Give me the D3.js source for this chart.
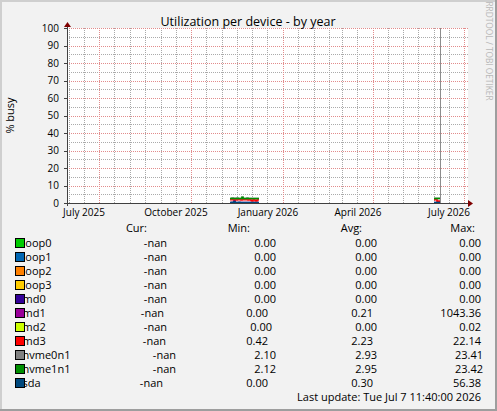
<!DOCTYPE html>
<html><head><meta charset="utf-8">
<script src="https://cdn.jsdelivr.net/npm/d3@7"></script>
<style>
body{margin:0;background:#F2F2F2}
svg{display:block}
text{font-family:"Open Sans","Noto Sans",sans-serif;fill:#000}
</style>
</head><body>
<svg id="c" width="497" height="411"></svg>
<script>
// ---------- data ----------
const chartTitle = "Utilization per device - by year";
const yAxisLabel = "% busy";
const watermark = "RRDTOOL / TOBI OETIKER";
const lastUpdate = "Last update: Tue Jul  7 11:40:00 2026";
const devices = ["loop0","loop1","loop2","loop3","md0","md1","md2","md3","nvme0n1","nvme1n1","sda"];
const colors  = ["#00CC00","#0066B3","#FF8000","#FFCC00","#330099","#990099","#CCFF00","#FF0000","#808080","#008F00","#00487D"];
const curVals = ["-nan","-nan","-nan","-nan","-nan","-nan","-nan","-nan","-nan","-nan","-nan"];
const minVals = ["0.00","0.00","0.00","0.00","0.00","0.00","0.00","0.42","2.10","2.12","0.00"];
const avgVals = ["0.00","0.00","0.00","0.00","0.00","0.21","0.00","2.23","2.93","2.95","0.30"];
const maxVals = ["0.00","0.00","0.00","0.00","0.00","1043.36","0.02","22.14","23.41","23.42","56.38"];
const legendHeaders = ["Cur:","Min:","Avg:","Max:"];

const yTicks = [0,10,20,30,40,50,60,70,80,90,100];
const yMinorTicks = [5,15,25,35,45,55,65,75,85,95];
const xTickDates  = ["2025-07-01","2025-10-01","2026-01-01","2026-04-01","2026-07-01"];
const xTickLabels = ["July 2025","October 2025","January 2026","April 2026","July 2026"];
const xDomain = ["2025-05-30","2026-07-04"];
const nowRule = "2026-06-07";

// daily samples
const seg1Start = "2025-11-09";
const seg2Start = "2026-06-01";
const seg1 = {
  loop0:[0,0,0,0,0,0,0,0,0,0,0,0,0,0,0,0,0,0,0,0,0,0,0,0,0,0,0,0,0],
  loop1:[0,0,0,0,0,0,0,0,0,0,0,0,0,0,0,0,0,0,0,0,0,0,0,0,0,0,0,0,0],
  loop2:[0,0,0,0,0,0,0,0,0,0,0,0,0,0,0,0,0,0,0,0,0,0,0,0,0,0,0,0,0],
  loop3:[0,0,0,0,0,0,0,0,0,0,0,0,0,0,0,0,0,0,0,0,0,0,0,0,0,0,0,0,0],
  md0:[0,0,0,0,0,0,0,0,0,0,0,0,0,0,0,0,0,0,0,0,0,0,0,0,0,0,0,0,0],
  md1:[0.2,0.2,0.3,0.2,2.6,0.3,0.2,0.2,0.2,0.3,0.2,0.2,0.2,0.2,0.3,0.2,0.2,0.2,0.2,0.2,0.3,0.2,0.2,0.2,0.2,0.2,0.2,0.2,0.2],
  md2:[0,0,0,0,0,0,0,0,0,0,0,0,0,0,0,0,0,0,0,0,0,0,0,0,0,0,0,0,0],
  md3:[1.9,1.9,2.0,1.9,1.9,1.8,1.9,1.9,2.0,1.9,1.9,1.8,1.9,1.9,1.9,2.0,1.9,1.9,1.8,1.9,1.9,1.4,1.2,1.9,1.9,1.3,1.2,1.8,1.9],
  nvme0n1:[2.6,2.6,2.7,2.6,2.6,2.6,2.6,2.7,2.6,2.6,2.6,2.6,3.2,2.6,2.6,2.6,2.6,2.7,2.6,2.6,2.6,2.6,2.6,2.6,2.6,2.6,2.6,2.6,2.6],
  nvme1n1:[2.6,2.6,2.7,2.6,2.6,2.6,2.6,2.7,2.6,2.6,2.6,2.6,3.3,2.6,2.6,2.6,2.6,2.7,2.6,2.6,2.6,2.6,2.6,2.6,2.6,2.6,2.6,2.6,2.6],
  sda:[0.3,0.3,0.4,0.3,0.9,0.3,0.3,0.3,0.3,0.4,0.3,0.3,0.3,0.3,0.3,0.3,0.3,0.3,0.3,0.3,0.3,0.3,0.3,0.3,0.3,0.3,0.3,0.3,0.3]
};
const seg2 = {
  loop0:[0,0,0,0,0,0,0], loop1:[0,0,0,0,0,0,0], loop2:[0,0,0,0,0,0,0], loop3:[0,0,0,0,0,0,0],
  md0:[0,0,0,0,0,0,0],
  md1:[0.2,0.2,0.2,0.2,0.2,0.2,0.2],
  md2:[0,0,0,0,0,0,0],
  md3:[1.9,1.9,1.9,1.1,1.1,1.1,1.1],
  nvme0n1:[2.6,2.6,2.6,2.6,2.6,2.6,2.6],
  nvme1n1:[2.6,2.6,2.6,2.6,2.6,2.6,2.6],
  sda:[0.3,0.3,0.3,0.3,0.3,0.3,0.3]
};

// ---------- layout ----------
const W = 497, H = 411;
const plot = {left:67, right:467, top:28, bottom:203};
const colCur = [167,167,167,167,167,164,167,166,176,176,163];
const colMin = [276,276,276,276,276,268,272,268,276,276,268];
const colAvg = [377,377,377,377,377,373,377,373,377,377,373];
const colMax = [481,481,481,481,481,481,481,481,483,483,481];
const headerRight = [147,250,362,475];

const parse = d3.utcParse("%Y-%m-%d");
const svg = d3.select("#c");
svg.append("rect").attr("width",W).attr("height",H).attr("fill","#F2F2F2");
svg.append("path").attr("d",`M0,0H${W}V2H2V${H}H0Z`).attr("fill","#CFCFCF");
svg.append("path").attr("d",`M${W},${H}H0V${H-2}H${W-2}V0H${W}Z`).attr("fill","#9E9E9E");

const x = d3.scaleUtc().domain(xDomain.map(parse)).range([plot.left, plot.right]);
const y = d3.scaleLinear().domain([0,100]).range([plot.bottom, plot.top]);

svg.append("rect").attr("x",plot.left).attr("y",plot.top).attr("width",plot.right-plot.left+1).attr("height",plot.bottom-plot.top).attr("fill","#FFFFFF");

const g = svg.append("g").attr("shape-rendering","crispEdges");
const px = d => Math.round(x(d))+0.5;
const minorDates = d3.utcDay.range(x.domain()[0], x.domain()[1]).filter(d=>d.getUTCDate()===1||d.getUTCDate()===16);
g.selectAll("line.vmin").data(minorDates).join("line").attr("class","vmin")
  .attr("x1",px).attr("x2",px).attr("y1",plot.top).attr("y2",plot.bottom)
  .attr("stroke","#A8A8A8").attr("stroke-dasharray","1,1");
g.selectAll("line.hmin").data(yMinorTicks).join("line").attr("class","hmin")
  .attr("x1",plot.left).attr("x2",plot.right+1)
  .attr("y1",d=>Math.round(y(d))+0.5).attr("y2",d=>Math.round(y(d))+0.5)
  .attr("stroke","#ABABAB").attr("stroke-dasharray","1,1");
const majorDates = xTickDates.map(parse);
g.selectAll("line.vmaj").data(majorDates).join("line").attr("class","vmaj")
  .attr("x1",px).attr("x2",px).attr("y1",plot.top).attr("y2",plot.bottom)
  .attr("stroke","#E28C8C").attr("stroke-dasharray","1,1");
g.selectAll("line.hmaj").data(yTicks.filter(v=>v>0)).join("line").attr("class","hmaj")
  .attr("x1",plot.left).attr("x2",plot.right+1)
  .attr("y1",d=>Math.round(y(d))+0.5).attr("y2",d=>Math.round(y(d))+0.5)
  .attr("stroke","#E28C8C").attr("stroke-dasharray","1,1");

// series
const line = d3.line().x(d=>x(d[0])).y(d=>y(d[1])).curve(d3.curveStepAfter);
function segData(segStart, arr){
  const s = parse(segStart);
  return arr.map((v,i)=>[d3.utcDay.offset(s,i), v]).concat([[d3.utcDay.offset(s,arr.length), arr[arr.length-1]]]);
}
devices.forEach((dev,i)=>{
  [[seg1Start,seg1[dev]],[seg2Start,seg2[dev]]].forEach(([s,arr])=>{
    svg.append("path").datum(segData(s,arr)).attr("d",line)
      .attr("fill","none").attr("stroke",colors[i]).attr("stroke-width",1.6);
  });
});

// rule
svg.append("line").attr("x1",px(parse(nowRule))).attr("x2",px(parse(nowRule)))
  .attr("y1",plot.top).attr("y2",plot.bottom).attr("stroke","#8C8C8C").attr("shape-rendering","crispEdges");

// axes
const ax = svg.append("g").attr("shape-rendering","crispEdges");
ax.append("line").attr("x1",plot.left+0.5).attr("x2",plot.left+0.5).attr("y1",plot.top-3).attr("y2",plot.bottom+3).attr("stroke","#404040");
ax.append("line").attr("x1",plot.left-3).attr("x2",plot.right+3).attr("y1",plot.bottom+0.5).attr("y2",plot.bottom+0.5).attr("stroke","#404040");
svg.append("path").attr("d",`M${plot.left-3},${plot.top-1}L${plot.left+4},${plot.top-1}L${plot.left+0.5},${plot.top-6}Z`).attr("fill","#7F0000");
svg.append("path").attr("d",`M${plot.right+1},${plot.bottom-3}L${plot.right+1},${plot.bottom+4}L${plot.right+6},${plot.bottom+0.5}Z`).attr("fill","#7F0000");
ax.selectAll("line.yt").data(yTicks).join("line").attr("class","yt")
  .attr("x1",plot.left-3).attr("x2",plot.left).attr("y1",d=>Math.round(y(d))+0.5).attr("y2",d=>Math.round(y(d))+0.5).attr("stroke","#404040");

// y labels
svg.selectAll("text.yl").data(yTicks).join("text").attr("class","yl")
  .attr("x",59).attr("y",d=>y(d)+3.5).attr("text-anchor","end").attr("font-size","10px").text(d=>d);
// x labels: centred half a month before the month start
svg.selectAll("text.xl").data(xTickDates).join("text").attr("class","xl")
  .attr("x",d=>x(d3.utcDay.offset(parse(d),-15))).attr("y",216).attr("text-anchor","middle").attr("font-size","10px")
  .text((d,i)=>xTickLabels[i]);

svg.append("text").attr("x",248).attr("y",26).attr("text-anchor","middle").attr("font-size","12.5px").text(chartTitle);
svg.append("text").attr("transform","translate(14,115.5) rotate(-90)").attr("text-anchor","middle").attr("font-size","11px").text(yAxisLabel);
svg.append("text").attr("transform","translate(486,51) rotate(90)").attr("text-anchor","middle").attr("font-size","8.3px").style("fill","#B8B8B8").text(watermark);

// legend
const rowY = i => 242.5 + 14*i;
svg.selectAll("text.lh").data(legendHeaders).join("text").attr("class","lh")
  .attr("x",(d,i)=>headerRight[i]).attr("y",232).attr("text-anchor","end").attr("font-size","11px").text(d=>d);
devices.forEach((dev,i)=>{
  const cy = rowY(i);
  svg.append("text").attr("x",22.5).attr("y",cy+4).attr("font-size","11px").text(dev);
  svg.append("rect").attr("x",15.5).attr("y",cy-4.5).attr("width",9).attr("height",9)
    .attr("fill",colors[i]).attr("stroke","#000").attr("shape-rendering","crispEdges");
  svg.append("text").attr("x",colCur[i]).attr("y",cy+4).attr("text-anchor","end").attr("font-size","11px").text(curVals[i]);
  svg.append("text").attr("x",colMin[i]).attr("y",cy+4).attr("text-anchor","end").attr("font-size","11px").text(minVals[i]);
  svg.append("text").attr("x",colAvg[i]).attr("y",cy+4).attr("text-anchor","end").attr("font-size","11px").text(avgVals[i]);
  svg.append("text").attr("x",colMax[i]).attr("y",cy+4).attr("text-anchor","end").attr("font-size","11px").text(maxVals[i]);
});
svg.append("text").attr("x",481).attr("y",rowY(11)+4).attr("text-anchor","end").attr("font-size","11px").text(lastUpdate);
</script>
</body></html>
